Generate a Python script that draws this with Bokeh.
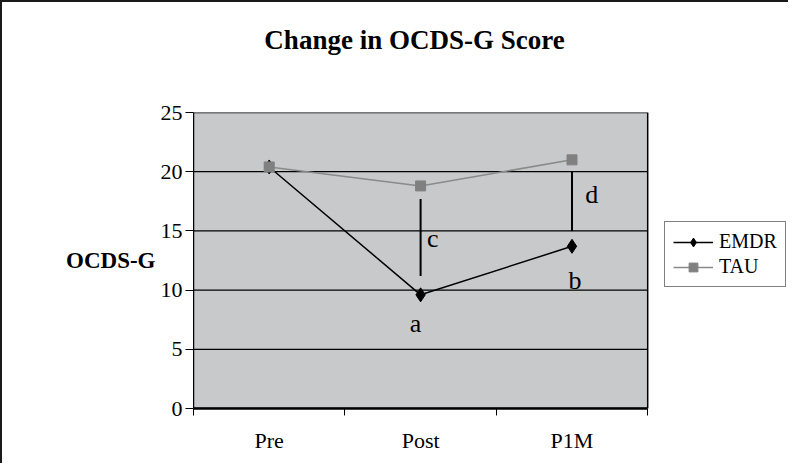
from bokeh.plotting import figure
from bokeh.layouts import column
from bokeh.models import (Range1d, FixedTicker, Label, Legend, LegendItem)
from bokeh.embed import file_html
from bokeh.resources import INLINE

# ---- data ----
categories = ["Pre", "Post", "P1M"]
emdr = [20.4, 9.6, 13.7]
tau = [20.4, 18.8, 21.0]
y_ticks = [0, 5, 10, 15, 20, 25]
title_text = "Change in OCDS-G Score"
y_label = "OCDS-G"
series_names = ["EMDR", "TAU"]
# significance bars: (category, low, high)
sig_bars = [("Post", 11.2, 17.7), ("P1M", 15.0, 20.0)]
# annotation letters
notes = ["a", "b", "c", "d"]

n = len(categories)
xs = [i + 0.5 for i in range(n)]
xpos = {c: x for c, x in zip(categories, xs)}
ymax = y_ticks[-1]

SERIF = "Liberation Serif"

# ---- title strip (its frame is aligned with the main chart's frame) ----
t = figure(width=786, height=70, output_backend="svg", toolbar_location=None,
           x_range=Range1d(0, 1), y_range=Range1d(0, 1),
           x_axis_location=None, y_axis_location=None,
           min_border=0)
t.title = None
t.outline_line_color = None
t.xgrid.grid_line_color = None
t.ygrid.grid_line_color = None
t.add_layout(Label(x=0, y=0.46, x_offset=221, text=title_text, text_font=SERIF,
                   text_font_style="bold", text_font_size="27px",
                   text_align="center", text_baseline="middle", text_color="black"))

# ---- main chart ----
# frame runs to the right edge so the legend can sit inside it; the visible
# plot area is the [0, n] x [0, ymax] box drawn below.
p = figure(width=786, height=391, output_backend="svg", toolbar_location=None,
           x_range=Range1d(0, 3.93), y_range=Range1d(0, ymax),
           min_border_left=191, min_border_right=0,
           min_border_top=40, min_border_bottom=55)
p.title = None
p.background_fill_color = "white"
p.border_fill_color = "white"
p.outline_line_color = None

# plot area box
p.quad(left=[0], right=[n], bottom=[0], top=[ymax], fill_color="#c8c9cb",
       line_color="black", line_width=1.5)
# horizontal gridlines
inner = y_ticks[1:-1]
p.segment(x0=[0] * len(inner), y0=inner, x1=[n] * len(inner), y1=inner,
          line_color="black", line_width=1.2)

# axes
p.xaxis.bounds = (0, n)
p.xaxis.ticker = FixedTicker(ticks=xs, minor_ticks=list(range(n + 1)))
p.xaxis.major_label_overrides = {x: c for x, c in zip(xs, categories)}
p.xaxis.major_tick_out = 0
p.xaxis.major_tick_in = 0
p.xaxis.minor_tick_out = 7
p.xaxis.minor_tick_in = 0
p.xaxis.minor_tick_line_color = "black"
p.xaxis.axis_line_width = 2.5
p.xaxis.axis_line_color = "black"
p.xaxis.major_label_standoff = 12
p.xaxis.major_label_text_font = SERIF
p.xaxis.major_label_text_font_size = "22px"
p.xaxis.major_label_text_color = "black"

p.yaxis.bounds = (0, ymax)
p.yaxis.ticker = FixedTicker(ticks=y_ticks)
p.yaxis.minor_tick_line_color = None
p.yaxis.major_tick_out = 8
p.yaxis.major_tick_in = 0
p.yaxis.major_tick_line_color = "black"
p.yaxis.axis_line_color = "black"
p.yaxis.major_label_standoff = 3
p.yaxis.major_label_text_font = SERIF
p.yaxis.major_label_text_font_size = "22px"
p.yaxis.major_label_text_color = "black"
p.yaxis.axis_label = y_label
p.yaxis.axis_label_orientation = "horizontal"
p.yaxis.axis_label_standoff = 2
p.yaxis.axis_label_text_font = SERIF
p.yaxis.axis_label_text_font_style = "bold"
p.yaxis.axis_label_text_font_size = "23px"
p.yaxis.axis_label_text_color = "black"

p.xgrid.grid_line_color = None
p.ygrid.grid_line_color = None

# series
r_e_line = p.line(xs, emdr, line_color="black", line_width=1.5)
r_e_pts = p.scatter(xs, emdr, marker="diamond", size=14, fill_color="black",
                    line_color="black")
r_t_line = p.line(xs, tau, line_color="#8a8a8a", line_width=1.5)
r_t_pts = p.scatter(xs, tau, marker="square", size=10, fill_color="#808080",
                    line_color="#808080")

# significance bars
for cat, lo, hi in sig_bars:
    p.segment(x0=[xpos[cat]], y0=[lo], x1=[xpos[cat]], y1=[hi],
              line_color="black", line_width=2)

# annotation letters (x offset from category, y position)
note_pos = [("Post", -0.033, 7.15), ("P1M", 0.02, 10.85),
            ("Post", 0.08, 14.35), ("P1M", 0.13, 18.05)]
for txt, (cat, dx, y) in zip(notes, note_pos):
    p.add_layout(Label(x=xpos[cat] + dx, y=y, text=txt, text_font=SERIF,
                       text_font_size="26px", text_align="center",
                       text_baseline="alphabetic", text_color="black"))

legend = Legend(items=[LegendItem(label=series_names[0], renderers=[r_e_line, r_e_pts]),
                       LegendItem(label=series_names[1], renderers=[r_t_line, r_t_pts])],
                location=(471, 121), orientation="vertical",
                glyph_width=40, glyph_height=22, label_height=22,
                label_standoff=6, padding=8, spacing=2, margin=0,
                border_line_color="black", border_line_width=1,
                background_fill_color="white", background_fill_alpha=1,
                label_text_font=SERIF, label_text_font_size="20px",
                label_text_color="black")
p.add_layout(legend, "center")

layout = column(t, p, spacing=0)
layout.styles = {"border-left": "2px solid #1a1a1a", "border-top": "2px solid #1a1a1a"}

open("out.html", "w").write(file_html(layout, INLINE))
